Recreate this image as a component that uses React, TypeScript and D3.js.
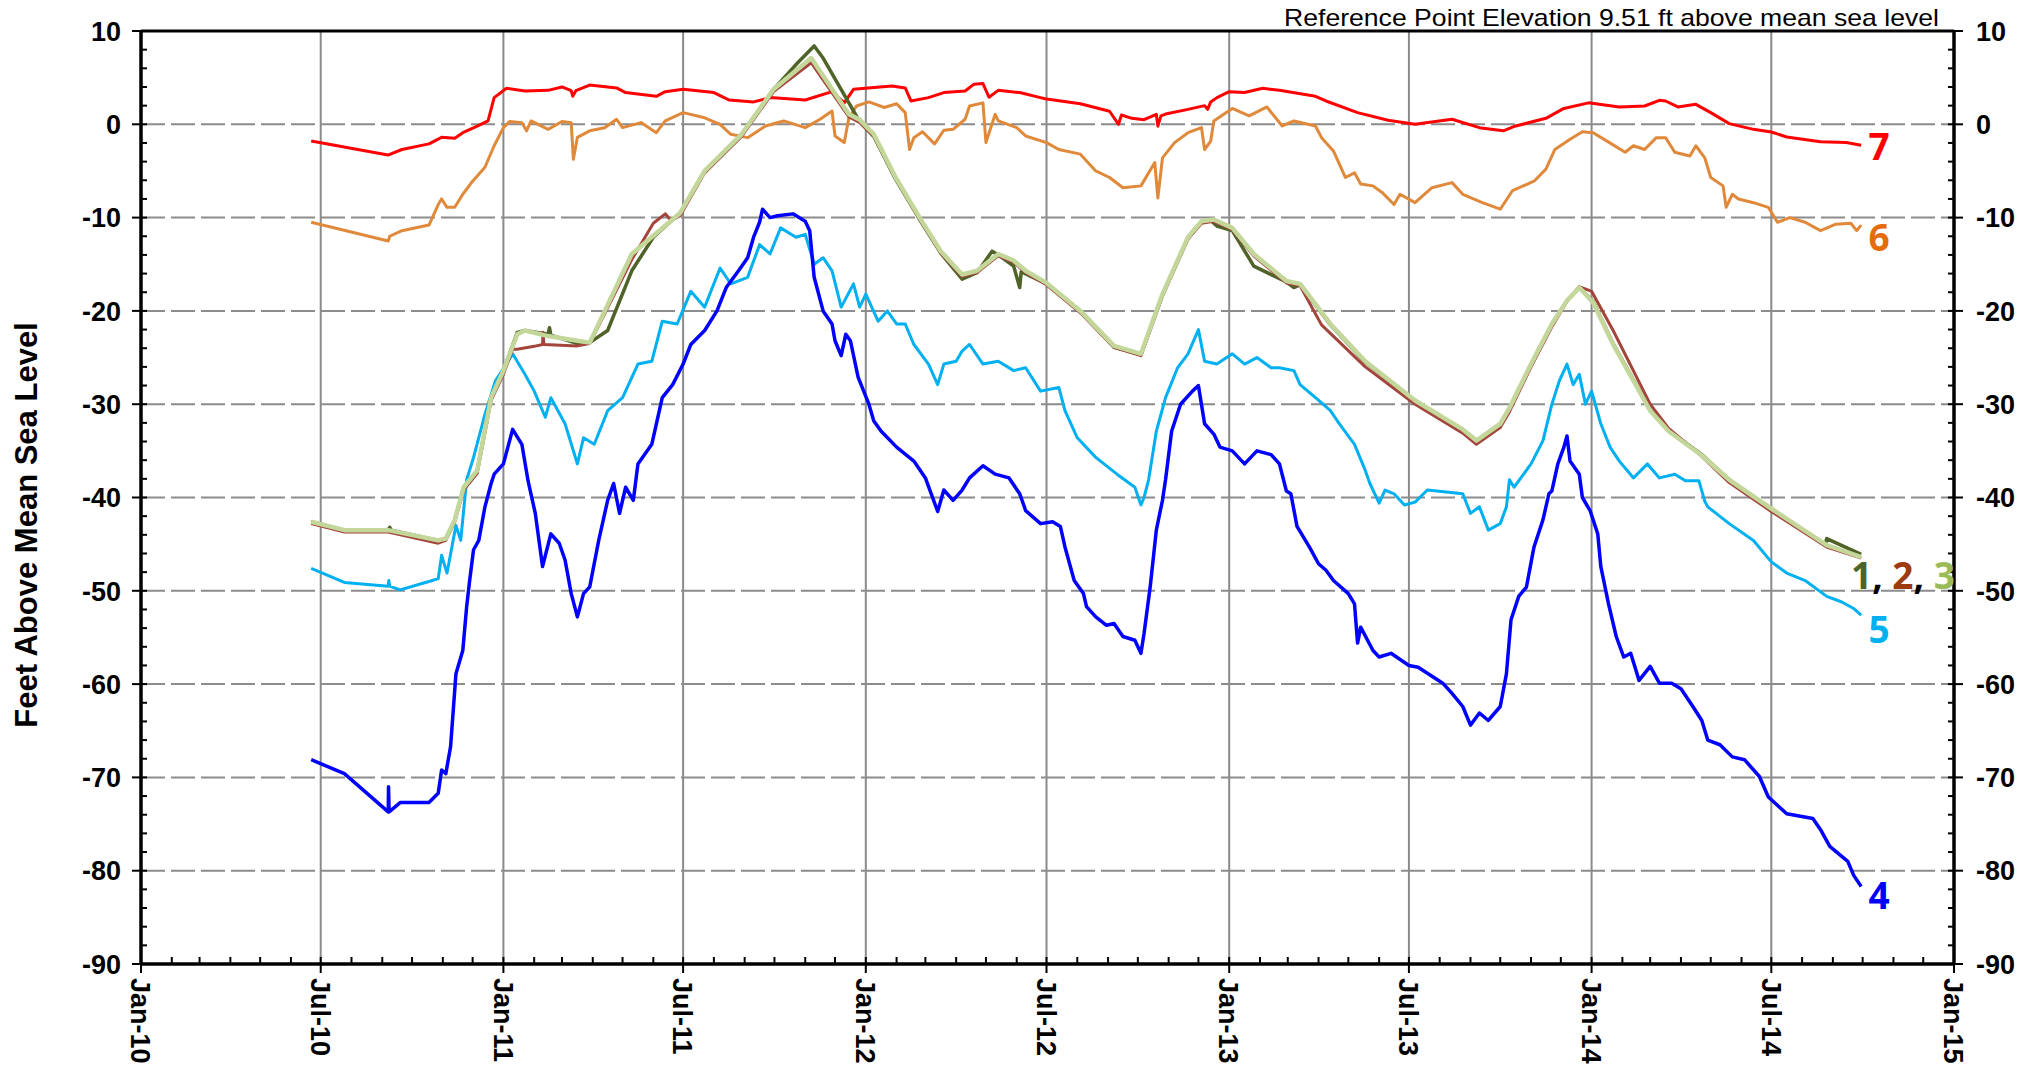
import { useEffect, useRef } from "react";
import * as d3 from "d3";

// x values are months since Jan 2010, y values are feet above MSL
type Pt = [number, number];

const WELL_7: Pt[] = [
  [5.68, -1.79], [8.19, -3.3], [8.66, -2.7], [9.55, -2.1], [9.96, -1.4], [10.4, -1.5], [10.67, -0.9],
  [11.15, -0.2], [11.5, 0.36], [11.7, 2.86], [12.1, 3.86], [12.7, 3.57], [13.5, 3.64], [14.0, 4.0],
  [14.3, 3.6], [14.35, 3.0], [14.45, 3.6], [14.9, 4.2], [15.8, 3.9], [16.1, 3.4], [17.1, 3.0], [17.4, 3.5],
  [18.0, 3.75], [19.0, 3.4], [19.5, 2.6], [20.3, 2.4], [20.85, 2.86], [22.0, 2.6], [22.9, 3.5], [23.3, 2.3],
  [23.6, 3.75], [24.85, 4.1], [25.3, 3.9], [25.5, 2.5], [26.1, 2.86], [26.6, 3.4], [27.3, 3.57], [27.6, 4.3],
  [27.9, 4.36], [28.1, 2.9], [28.4, 3.64], [29.1, 3.4], [30.0, 2.7], [31.1, 2.2], [32.05, 1.4], [32.35, 0.0],
  [32.45, 1.0], [32.8, 0.64], [33.2, 0.5], [33.6, 1.07], [33.65, -0.2], [33.75, 0.9], [33.9, 1.1],
  [34.65, 1.6], [35.2, 2.0], [35.3, 1.6], [35.4, 2.4], [35.6, 2.86], [36.0, 3.5], [36.5, 3.4], [37.1, 3.86],
  [37.7, 3.64], [38.9, 3.0], [39.25, 2.5], [40.3, 1.25], [41.3, 0.43], [42.2, 0], [43.4, 0.54], [44.3, -0.36],
  [45.1, -0.7], [45.5, -0.18], [46.5, 0.64], [47.1, 1.7], [47.9, 2.3], [48.9, 1.86], [49.8, 1.96],
  [50.3, 2.57], [50.5, 2.5], [50.9, 1.86], [51.5, 2.14], [52.0, 1.25], [52.6, 0.07], [53.4, -0.54],
  [54.0, -0.82], [54.5, -1.36], [55.6, -1.86], [56.45, -1.96], [56.95, -2.25],
];

const WELL_6: Pt[] = [
  [5.68, -10.5], [8.2, -12.5], [8.25, -12.0], [8.66, -11.4], [9.55, -10.8], [9.85, -8.6], [9.96, -8.0],
  [10.14, -8.9], [10.4, -8.9], [10.67, -7.5], [11.0, -6.1], [11.4, -4.6], [11.7, -2.3], [12.0, -0.36],
  [12.2, 0.3], [12.6, 0.18], [12.75, -0.7], [12.9, 0.36], [13.5, -0.54], [14.0, 0.3], [14.3, 0.18],
  [14.37, -3.75], [14.5, -1.4], [14.9, -0.7], [15.4, -0.36], [15.8, 0.54], [16.0, -0.36], [16.6, 0.18],
  [17.1, -0.9], [17.4, 0.36], [18.0, 1.25], [18.7, 0.7], [19.2, 0], [19.55, -1.07], [20.1, -1.43],
  [20.7, -0.18], [21.3, 0.36], [22.0, -0.36], [22.5, 0.54], [22.9, 1.43], [23.0, -1.25], [23.3, -1.96],
  [23.45, 0.7], [23.7, 1.96], [24.1, 2.4], [24.6, 1.8], [25.0, 2.2], [25.3, 1.25], [25.45, -2.7],
  [25.6, -1.43], [25.9, -0.8], [26.3, -2.1], [26.6, -0.64], [26.9, -0.54], [27.3, 0.54], [27.45, 1.96],
  [27.9, 2.3], [28.0, -1.96], [28.3, 1.07], [28.4, 0.36], [29.0, -0.36], [29.3, -1.25], [30.0, -1.96],
  [30.4, -2.7], [31.1, -3.2], [31.6, -5.0], [32.05, -5.7], [32.5, -6.8], [33.1, -6.6], [33.55, -4.1],
  [33.65, -7.9], [33.8, -3.6], [34.2, -1.96], [34.65, -0.9], [35.1, -0.36], [35.2, -2.7], [35.4, -1.8],
  [35.5, 0.36], [36.1, 1.7], [36.65, 0.9], [37.25, 1.86], [37.8, -0.18], [38.2, 0.36], [38.9, -0.18],
  [39.1, -1.43], [39.5, -2.86], [39.9, -5.7], [40.2, -5.2], [40.4, -6.4], [40.8, -6.6], [41.1, -7.3],
  [41.5, -8.6], [41.7, -7.5], [42.2, -8.4], [42.75, -6.8], [43.4, -6.25], [43.75, -7.5], [44.4, -8.4],
  [45.0, -9.1], [45.4, -7.1], [46.1, -6.1], [46.5, -4.8], [46.8, -2.7], [47.3, -1.6], [47.7, -0.8],
  [48.05, -0.9], [48.5, -1.8], [49.1, -3.0], [49.4, -2.3], [49.8, -2.7], [50.2, -1.43], [50.5, -1.43],
  [50.8, -3.0], [51.3, -3.4], [51.5, -2.3], [51.8, -3.6], [52.0, -5.7], [52.4, -6.6], [52.5, -8.9],
  [52.7, -7.5], [52.9, -8.0], [53.4, -8.4], [53.9, -8.9], [54.2, -10.5], [54.6, -10.0], [55.1, -10.5],
  [55.6, -11.4], [56.1, -10.7], [56.6, -10.6], [56.8, -11.4], [56.95, -10.8],
];

const WELL_1: Pt[] = [
  [5.68, -42.6], [6.77, -43.5], [8.2, -43.5], [8.25, -43.2], [8.3, -43.5], [9.85, -44.6], [10.1, -44.4],
  [10.4, -42.4], [10.7, -38.9], [11.15, -37.1], [11.6, -29.3], [12.0, -26.4], [12.45, -22.3], [12.7, -22.1],
  [13.5, -22.5], [13.55, -21.8], [13.6, -22.6], [14.6, -23.6], [14.9, -23.4], [15.5, -22.1], [16.3, -15.7],
  [17.0, -12.1], [17.9, -9.5], [18.7, -5.0], [19.9, -1.07], [20.97, 3.75], [21.7, 6.4], [22.3, 8.4],
  [22.6, 7.1], [23.45, 2.3], [23.8, 0.3], [24.26, -1.3], [24.97, -5.9], [25.8, -10.2], [26.5, -13.8],
  [27.2, -16.6], [27.7, -15.9], [28.2, -13.6], [28.4, -14.0], [28.9, -15.2], [29.1, -17.5], [29.15, -15.8],
  [30.0, -17.1], [31.1, -20.1], [32.2, -23.9], [33.1, -24.7], [33.8, -18.3], [34.65, -12.2], [35.1, -10.5],
  [35.4, -10.3], [35.6, -10.9], [36.1, -11.4], [36.8, -15.2], [37.95, -16.9], [38.2, -17.5], [38.4, -17.2],
  [39.4, -21.5], [40.55, -25.5], [42.2, -29.7], [43.75, -32.8], [44.2, -33.9], [45.0, -32.1], [45.3, -30.4],
  [46.0, -25.7], [46.7, -21.4], [47.2, -18.9], [47.6, -17.5], [48.05, -19.0], [48.7, -23.5], [50.0, -30.6],
  [50.6, -32.8], [51.7, -35.4], [52.6, -38.1], [54.0, -41.2], [55.75, -45.1], [55.8, -44.4], [56.95, -46.1],
];

const WELL_2: Pt[] = [
  [5.68, -42.8], [6.77, -43.7], [8.2, -43.7], [9.85, -44.9], [10.1, -44.6], [10.4, -42.6], [10.7, -39.2],
  [11.15, -37.4], [11.6, -29.6], [12.0, -26.8], [12.3, -24.1], [12.45, -24.1], [13.0, -23.8], [13.3, -23.6],
  [13.32, -22.3], [13.35, -23.6], [14.5, -23.75], [14.9, -23.5], [16.3, -14.5], [17.0, -10.6], [17.4, -9.6],
  [17.6, -10.3], [17.9, -9.8], [18.7, -5.2], [19.9, -1.3], [20.97, 3.5], [22.2, 6.6], [23.45, 0.8],
  [23.8, 0.2], [24.26, -1.3], [24.97, -5.8], [25.8, -10.2], [26.5, -13.8], [27.2, -16.3], [27.7, -15.9],
  [28.4, -14.1], [28.9, -14.8], [29.3, -15.9], [30.0, -17.2], [31.1, -20.2], [32.2, -23.9], [33.1, -24.8],
  [33.8, -18.4], [34.65, -12.3], [35.1, -10.6], [35.5, -10.4], [36.1, -11.3], [36.8, -14.1], [37.95, -17.0],
  [38.4, -17.3], [39.1, -21.5], [40.55, -26.0], [42.2, -30.0], [43.75, -33.1], [44.2, -34.3], [45.0, -32.5],
  [45.3, -30.8], [46.0, -26.0], [46.7, -21.7], [47.2, -19.0], [47.6, -17.4], [48.0, -17.9], [48.7, -22.1],
  [50.0, -30.0], [50.6, -32.6], [51.7, -35.6], [52.6, -38.4], [54.0, -41.5], [55.8, -45.3], [56.95, -46.5],
];

const WELL_3: Pt[] = [
  [5.68, -42.6], [6.77, -43.5], [8.2, -43.5], [9.85, -44.6], [10.1, -44.4], [10.4, -42.4], [10.7, -38.9],
  [11.15, -37.1], [11.6, -29.3], [12.0, -26.4], [12.45, -22.5], [12.7, -22.1], [13.5, -22.7], [14.5, -23.2],
  [14.9, -23.4], [16.3, -13.9], [17.9, -9.5], [18.7, -5.0], [19.9, -1.07], [20.97, 3.75], [22.2, 7.1],
  [23.45, 1.07], [23.8, 0.5], [24.26, -1.07], [24.97, -5.7], [25.8, -10.0], [26.5, -13.6], [27.2, -16.1],
  [27.7, -15.7], [28.4, -13.9], [28.9, -14.6], [29.3, -15.7], [30.0, -17.0], [31.1, -20.0], [32.2, -23.75],
  [33.1, -24.6], [33.8, -18.2], [34.65, -12.1], [35.1, -10.4], [35.5, -10.2], [36.1, -11.1], [36.8, -13.9],
  [37.95, -16.8], [38.4, -17.1], [39.4, -21.4], [40.55, -25.4], [42.2, -29.6], [43.75, -32.7], [44.2, -33.9],
  [45.0, -32.1], [45.3, -30.4], [46.0, -25.7], [46.7, -21.4], [47.2, -18.9], [47.6, -17.5], [48.05, -19.1],
  [48.7, -23.6], [50.0, -30.7], [50.6, -32.9], [51.7, -35.5], [52.6, -38.1], [54.0, -41.2], [55.8, -45.1],
  [56.95, -46.4],
];

const WELL_5: Pt[] = [
  [5.68, -47.6], [6.77, -49.1], [8.2, -49.5], [8.22, -48.9], [8.25, -49.5], [8.6, -49.9], [9.55, -49.0],
  [9.85, -48.7], [9.96, -46.2], [10.14, -48.1], [10.44, -43.0], [10.6, -44.6], [10.8, -38.1], [11.03, -35.7],
  [11.4, -31.1], [11.74, -27.5], [12.1, -25.7], [12.3, -24.6], [12.7, -26.8], [13.0, -28.6], [13.4, -31.4],
  [13.6, -29.3], [14.1, -32.1], [14.5, -36.4], [14.7, -33.6], [15.05, -34.3], [15.5, -30.7], [16.0, -29.3],
  [16.5, -25.7], [16.95, -25.4], [17.3, -21.1], [17.8, -21.4], [18.25, -17.9], [18.7, -19.6], [19.2, -15.4],
  [19.55, -17.1], [20.1, -16.4], [20.5, -12.9], [20.85, -13.9], [21.2, -11.1], [21.7, -12.1], [22.0, -11.8],
  [22.3, -15.0], [22.6, -14.3], [22.9, -15.7], [23.2, -19.6], [23.6, -17.1], [23.8, -19.6], [24.0, -18.2],
  [24.4, -21.1], [24.7, -20.0], [25.0, -21.4], [25.3, -21.4], [25.6, -23.6], [26.1, -25.7], [26.4, -27.9],
  [26.6, -25.7], [27.0, -25.4], [27.2, -24.3], [27.45, -23.6], [27.9, -25.7], [28.4, -25.4], [28.9, -26.4],
  [29.3, -26.1], [29.8, -28.6], [30.4, -28.2], [30.6, -30.7], [31.0, -33.6], [31.6, -35.7], [32.3, -37.5],
  [32.9, -38.9], [33.1, -40.8], [33.2, -40.0], [33.35, -38.1], [33.6, -32.9], [33.9, -29.3], [34.3, -26.1],
  [34.65, -24.6], [35.0, -22.0], [35.2, -25.4], [35.6, -25.7], [36.1, -24.6], [36.5, -25.7], [36.9, -25.0],
  [37.4, -26.1], [37.7, -26.1], [38.2, -26.4], [38.4, -27.9], [38.9, -29.3], [39.4, -30.7], [39.7, -32.1],
  [40.2, -34.3], [40.55, -37.1], [40.7, -38.5], [41.0, -40.6], [41.2, -39.2], [41.5, -39.6], [41.85, -40.8],
  [42.2, -40.5], [42.6, -39.2], [43.75, -39.6], [44.0, -41.7], [44.3, -41.0], [44.6, -43.5], [45.0, -42.8],
  [45.2, -41.0], [45.3, -38.1], [45.45, -38.9], [46.0, -36.4], [46.4, -33.9], [46.7, -30.0], [46.95, -27.5],
  [47.2, -25.7], [47.4, -27.9], [47.6, -26.8], [47.8, -30.0], [48.0, -28.6], [48.3, -32.1], [48.6, -34.6],
  [48.9, -36.1], [49.4, -37.9], [49.9, -36.4], [50.3, -37.9], [50.8, -37.5], [51.15, -38.2], [51.6, -38.2],
  [51.8, -40.4], [51.9, -41.0], [52.6, -42.8], [53.4, -44.6], [54.0, -46.9], [54.5, -48.1], [55.1, -48.9],
  [55.8, -50.6], [56.3, -51.2], [56.7, -51.9], [56.95, -52.6],
];

const WELL_4: Pt[] = [
  [5.68, -68.1], [6.77, -69.6], [8.2, -73.7], [8.21, -71.0], [8.23, -73.7], [8.6, -72.7], [9.55, -72.7],
  [9.85, -71.7], [9.96, -69.2], [10.1, -69.6], [10.26, -66.7], [10.44, -58.9], [10.67, -56.4], [10.8, -51.7],
  [10.9, -48.9], [11.03, -45.6], [11.2, -44.6], [11.4, -41.0], [11.6, -38.5], [11.7, -37.5], [12.0, -36.4],
  [12.3, -32.7], [12.6, -34.3], [12.8, -38.2], [13.04, -41.7], [13.3, -47.4], [13.6, -43.9], [13.9, -44.9],
  [14.1, -46.7], [14.3, -50.3], [14.5, -52.8], [14.7, -50.3], [14.9, -49.6], [15.2, -44.6], [15.5, -40.3],
  [15.7, -38.5], [15.9, -41.7], [16.1, -38.9], [16.35, -40.3], [16.5, -36.4], [16.95, -34.3], [17.3, -29.3],
  [17.65, -27.9], [18.0, -25.7], [18.25, -23.6], [18.7, -22.1], [19.1, -20.0], [19.4, -17.5], [19.8, -15.7],
  [20.1, -14.3], [20.3, -12.1], [20.5, -10.5], [20.6, -9.1], [20.85, -10.0], [21.1, -9.8], [21.6, -9.6],
  [22.0, -10.4], [22.15, -11.4], [22.3, -16.4], [22.6, -20.0], [22.9, -21.4], [23.0, -23.2], [23.2, -24.8],
  [23.35, -22.5], [23.5, -23.2], [23.75, -27.1], [24.1, -30.0], [24.26, -31.8], [24.5, -32.9], [25.0, -34.6],
  [25.6, -36.1], [26.0, -37.9], [26.4, -41.5], [26.6, -39.2], [26.9, -40.3], [27.2, -39.2], [27.45, -37.9],
  [27.9, -36.6], [28.3, -37.5], [28.75, -37.9], [29.1, -39.6], [29.3, -41.4], [29.8, -42.8], [30.2, -42.6],
  [30.45, -43.1], [30.6, -45.3], [30.75, -47.1], [30.9, -48.9], [31.2, -50.3], [31.3, -51.7], [31.6, -52.8],
  [31.95, -53.7], [32.2, -53.5], [32.5, -54.9], [32.9, -55.3], [33.1, -56.7], [33.2, -54.6], [33.4, -49.6],
  [33.6, -43.5], [33.8, -40.3], [33.9, -38.1], [34.1, -32.9], [34.4, -30.0], [34.8, -28.6], [35.0, -28.0],
  [35.2, -32.1], [35.5, -33.2], [35.7, -34.6], [36.1, -35.0], [36.5, -36.4], [36.9, -35.0], [37.4, -35.4],
  [37.7, -36.4], [37.95, -39.3], [38.1, -39.6], [38.3, -43.1], [38.7, -45.3], [39.0, -47.1], [39.25, -47.8],
  [39.5, -48.9], [40.0, -50.3], [40.2, -51.4], [40.3, -55.6], [40.4, -53.9], [40.8, -56.4], [41.0, -57.1],
  [41.4, -56.7], [42.0, -58.0], [42.3, -58.2], [43.1, -59.9], [43.4, -61.0], [43.75, -62.4], [44.0, -64.4],
  [44.3, -63.1], [44.6, -63.9], [45.0, -62.4], [45.2, -58.9], [45.35, -53.1], [45.6, -50.6], [45.85, -49.6],
  [46.1, -45.3], [46.4, -42.4], [46.6, -39.6], [46.7, -39.3], [46.9, -36.4], [47.1, -34.6], [47.2, -33.4],
  [47.3, -36.1], [47.6, -37.5], [47.7, -40.0], [47.95, -41.4], [48.2, -43.9], [48.3, -47.4], [48.55, -51.4],
  [48.8, -54.9], [49.05, -57.1], [49.3, -56.7], [49.6, -59.6], [50.0, -58.1], [50.3, -59.9], [50.7, -59.9],
  [51.0, -60.5], [51.4, -62.4], [51.7, -63.9], [51.9, -66.0], [52.3, -66.5], [52.7, -67.8], [53.1, -68.1],
  [53.6, -69.9], [53.9, -72.1], [54.5, -73.9], [55.35, -74.4], [55.6, -75.6], [55.9, -77.4], [56.5, -79.0],
  [56.7, -80.5], [56.95, -81.7],
];

const X_TICK_LABELS = ["Jan-10", "Jul-10", "Jan-11", "Jul-11", "Jan-12", "Jul-12", "Jan-13", "Jul-13", "Jan-14", "Jul-14", "Jan-15"];
const Y_TICKS = [10, 0, -10, -20, -30, -40, -50, -60, -70, -80, -90];

const SERIES = [
  { id: "6", data: WELL_6, color: "#e0893a", width: 3 },
  { id: "7", data: WELL_7, color: "#ff0000", width: 3 },
  { id: "5", data: WELL_5, color: "#00b0f0", width: 3 },
  { id: "4", data: WELL_4, color: "#0000ff", width: 3.5 },
  { id: "1", data: WELL_1, color: "#4f6228", width: 3.5 },
  { id: "2", data: WELL_2, color: "#a4453c", width: 3 },
  { id: "3", data: WELL_3, color: "#c4d79b", width: 4.5 },
];

// end-of-line labels: text pieces and the level (ft) they sit at
const END_LABELS: { parts: [string, string][]; level: number }[] = [
  { parts: [["7", "#ff0000"]], level: -2.4 },
  { parts: [["6", "#e46c0a"]], level: -12.1 },
  { parts: [["1", "#4f6228"], [", ", "#000"], ["2", "#9c3a10"], [", ", "#000"], ["3", "#9bbb59"]], level: -48.4 },
  { parts: [["5", "#00b0f0"]], level: -54.2 },
  { parts: [["4", "#0000ff"]], level: -82.7 },
];

const START = new Date(2010, 0, 1);

function toDate(m: number) {
  const whole = Math.floor(m);
  const a = d3.timeMonth.offset(START, whole);
  const b = d3.timeMonth.offset(START, whole + 1);
  return new Date(+a + (m - whole) * (+b - +a));
}

export default function App() {
  const ref = useRef<SVGSVGElement | null>(null);

  useEffect(() => {
    if (!ref.current) return;
    const svg = d3.select(ref.current);
    svg.selectAll("*").remove();

    const width = 2034;
    const height = 1068;
    const left = 141;
    const right = 1954;
    const top = 31;
    const bottom = 964;
    const font = "'Liberation Sans', Arial, sans-serif";

    const x = d3.scaleTime().domain([START, new Date(2015, 0, 1)]).range([left, right]);
    const y = d3.scaleLinear().domain([-90, 10]).range([bottom, top]);

    svg.attr("viewBox", `0 0 ${width} ${height}`);
    svg.append("rect").attr("width", width).attr("height", height).attr("fill", "#fff");

    const halfYears = d3.timeMonth.every(6)!.range(START, new Date(2015, 0, 2));
    const months = d3.timeMonth.range(START, new Date(2015, 0, 2));

    // grid
    const grid = svg.append("g");
    grid
      .selectAll("line.v")
      .data(halfYears.slice(1, -1))
      .enter()
      .append("line")
      .attr("x1", (d) => x(d))
      .attr("x2", (d) => x(d))
      .attr("y1", top)
      .attr("y2", bottom)
      .attr("stroke", "#8a8a8a")
      .attr("stroke-width", 2);
    grid
      .selectAll("line.h")
      .data(Y_TICKS.slice(1, -1))
      .enter()
      .append("line")
      .attr("x1", left)
      .attr("x2", right)
      .attr("y1", (d) => y(d))
      .attr("y2", (d) => y(d))
      .attr("stroke", "#8c8c8c")
      .attr("stroke-width", 2)
      .attr("stroke-dasharray", "24 6");

    // series
    const line = d3
      .line<Pt>()
      .x((d) => x(toDate(d[0])))
      .y((d) => y(d[1]))
      .curve(d3.curveLinear);

    svg
      .append("g")
      .selectAll("path")
      .data(SERIES)
      .enter()
      .append("path")
      .attr("d", (s) => line(s.data))
      .attr("fill", "none")
      .attr("stroke", (s) => s.color)
      .attr("stroke-width", (s) => s.width)
      .attr("stroke-linejoin", "round");

    // frame
    const ax = svg.append("g").attr("stroke", "#000");
    ax.append("line").attr("x1", left).attr("x2", right).attr("y1", top).attr("y2", top).attr("stroke-width", 3);
    ax.append("line").attr("x1", left).attr("x2", right).attr("y1", bottom).attr("y2", bottom).attr("stroke-width", 3.5);
    ax.append("line").attr("x1", left).attr("x2", left).attr("y1", top).attr("y2", bottom).attr("stroke-width", 3.5);
    ax.append("line").attr("x1", right).attr("x2", right).attr("y1", top).attr("y2", bottom).attr("stroke-width", 3.5);

    const yMinor = d3.range(-90, 10.01, 2);
    yMinor.forEach((v) => {
      const major = v % 10 === 0;
      ax.append("line")
        .attr("x1", major ? left - 9 : left)
        .attr("x2", left + 6)
        .attr("y1", y(v))
        .attr("y2", y(v))
        .attr("stroke-width", 2);
      ax.append("line")
        .attr("x1", right - 6)
        .attr("x2", major ? right + 9 : right)
        .attr("y1", y(v))
        .attr("y2", y(v))
        .attr("stroke-width", 2);
    });
    months.forEach((d) => {
      const major = d.getMonth() % 6 === 0;
      ax.append("line")
        .attr("x1", x(d))
        .attr("x2", x(d))
        .attr("y1", bottom - 7)
        .attr("y2", major ? bottom + 9 : bottom)
        .attr("stroke-width", 2);
    });

    // tick labels
    const lab = svg
      .append("g")
      .attr("font-family", font)
      .attr("font-weight", "bold")
      .attr("font-size", 27)
      .attr("fill", "#000");
    Y_TICKS.forEach((v) => {
      lab.append("text").attr("x", left - 20).attr("y", y(v)).attr("dy", "0.36em").attr("text-anchor", "end").text(v);
      lab.append("text").attr("x", right + 22).attr("y", y(v)).attr("dy", "0.36em").attr("text-anchor", "start").text(v);
    });
    halfYears.forEach((d, i) => {
      lab
        .append("text")
        .attr("transform", `translate(${x(d)},${bottom + 14}) rotate(90)`)
        .attr("dy", "0.36em")
        .attr("text-anchor", "start")
        .text(X_TICK_LABELS[i]);
    });

    lab
      .append("text")
      .attr("transform", `translate(26,525) rotate(-90)`)
      .attr("dy", "0.36em")
      .attr("text-anchor", "middle")
      .attr("font-size", 31)
      .text("Feet Above Mean Sea Level");

    svg
      .append("text")
      .attr("x", 1939)
      .attr("y", 26)
      .attr("text-anchor", "end")
      .attr("font-family", "'Liberation Sans Narrow', " + font)
      .attr("font-size", 24)
      .attr("textLength", 655)
      .attr("lengthAdjust", "spacingAndGlyphs")
      .text("Reference Point Elevation 9.51 ft above mean sea level");

    // series labels
    const tag = svg
      .append("g")
      .attr("font-family", "'Open Sans', 'DejaVu Sans', sans-serif")
      .attr("font-weight", 700)
      .attr("font-size", 37);
    const labelX = 1879;
    END_LABELS.forEach((r) => {
      const multi = r.parts.length > 1;
      const t = tag
        .append("text")
        .attr("x", multi ? 1851 : labelX)
        .attr("y", y(r.level))
        .attr("dy", "0.36em")
        .attr("text-anchor", multi ? "start" : "middle");
      r.parts.forEach(([s, c]) => t.append("tspan").attr("fill", c).text(s));
    });
  }, []);

  return (
    <svg
      ref={ref}
      width={2034}
      height={1068}
      style={{ position: "absolute", left: 0, top: 0, display: "block" }}
    />
  );
}
